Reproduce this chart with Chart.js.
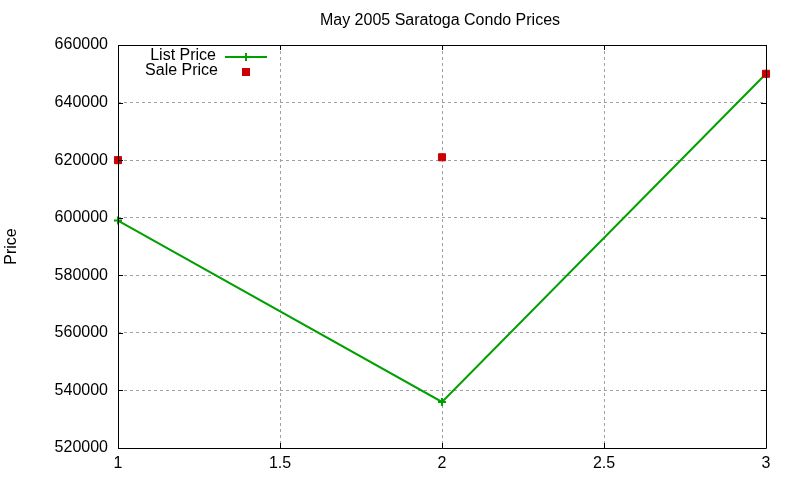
<!DOCTYPE html>
<html>
<head>
<meta charset="utf-8">
<script src="https://cdn.jsdelivr.net/npm/chart.js@4.4.1/dist/chart.umd.min.js"></script>
<style>
html,body{margin:0;padding:0;background:#fff;}
#wrap{width:800px;height:480px;position:relative;}
</style>
</head>
<body>
<div id="wrap"><canvas id="c" width="800" height="480"></canvas></div>
<script>
const xValues = [1, 2, 3];
const listPrice = [599000, 536000, 650000];
const salePrice = [620000, 621000, 650000];
const xTickValues = [1, 1.5, 2, 2.5, 3];
const seriesNames = ["List Price", "Sale Price"];
const chartTitle = "May 2005 Saratoga Condo Prices";
const yAxisTitle = "Price";

const FONT = "'Liberation Sans', Arial, sans-serif";
const GREEN = "#00a000";
const RED = "#cc0000";

const toPts = (ys) => xValues.map((x, i) => ({x: x, y: ys[i]}));

const framePlugin = {
  id: 'frame',
  afterDraw(chart) {
    const ctx = chart.ctx;
    const a = chart.chartArea;
    const xs = chart.scales.x, ys = chart.scales.y;
    ctx.save();
    ctx.strokeStyle = '#000';
    ctx.lineWidth = 1;
    ctx.setLineDash([]);
    ctx.beginPath();
    ctx.rect(Math.round(a.left) + 0.5, Math.round(a.top) + 0.5, Math.round(a.right - a.left), Math.round(a.bottom - a.top));
    ctx.stroke();
    const tl = 5;
    ctx.beginPath();
    ys.ticks.forEach(t => {
      const y = Math.round(ys.getPixelForValue(t.value)) + 0.5;
      ctx.moveTo(a.left, y); ctx.lineTo(a.left + tl, y);
      ctx.moveTo(a.right, y); ctx.lineTo(a.right - tl, y);
    });
    xs.ticks.forEach(t => {
      const x = Math.round(xs.getPixelForValue(t.value)) + 0.5;
      ctx.moveTo(x, a.bottom); ctx.lineTo(x, a.bottom - tl);
      ctx.moveTo(x, a.top); ctx.lineTo(x, a.top + tl);
    });
    ctx.stroke();
    ctx.fillStyle = '#000';
    ctx.font = '16px ' + FONT;
    ctx.textAlign = 'center';
    ctx.textBaseline = 'middle';
    ctx.fillText(chartTitle, 440, 21);
    ctx.textAlign = 'right';
    ctx.fillText(seriesNames[0], 216, 56);
    ctx.fillText(seriesNames[1], 218, 71);
    ctx.strokeStyle = GREEN;
    ctx.lineWidth = 2;
    ctx.beginPath();
    ctx.moveTo(225, 57); ctx.lineTo(267, 57);
    ctx.moveTo(246, 53); ctx.lineTo(246, 61);
    ctx.stroke();
    ctx.fillStyle = RED;
    ctx.fillRect(242, 68, 8, 8);
    ctx.restore();
  }
};

new Chart(document.getElementById('c'), {
  type: 'line',
  data: {
    datasets: [
      {
        label: seriesNames[0],
        data: toPts(listPrice),
        borderColor: GREEN,
        backgroundColor: GREEN,
        borderWidth: 2,
        pointStyle: 'cross',
        pointRadius: 4,
        pointBorderWidth: 2,
        pointBorderColor: GREEN,
        tension: 0,
        clip: false,
        order: 2
      },
      {
        label: seriesNames[1],
        data: toPts(salePrice),
        showLine: false,
        pointStyle: 'rect',
        pointRadius: 5,
        pointBorderWidth: 1,
        pointBorderColor: RED,
        pointBackgroundColor: RED,
        clip: false,
        order: 1
      }
    ]
  },
  options: {
    responsive: false,
    animation: false,
    events: [],
    layout: { padding: { top: 45, right: 34, left: 0, bottom: 0 } },
    plugins: { legend: { display: false }, title: { display: false }, tooltip: { enabled: false } },
    scales: {
      x: {
        type: 'linear',
        min: 1, max: 3,
        afterFit(s) { s.height = 32; },
        afterBuildTicks(s) { s.ticks = xTickValues.map(v => ({value: v})); },
        ticks: { color: '#000', font: { family: FONT, size: 16 }, padding: 6, maxRotation: 0, autoSkip: false,
                 callback: v => String(v) },
        grid: { color: '#a0a0a0', lineWidth: 1, drawTicks: false, tickLength: 0 },
        border: { display: false, dash: [3, 3] }
      },
      y: {
        min: 520000, max: 660000,
        afterFit(s) { s.width = 118; },
        ticks: { stepSize: 20000, color: '#000', font: { family: FONT, size: 16 }, padding: 10, autoSkip: false,
                 callback: v => String(v) },
        grid: { color: '#a0a0a0', lineWidth: 1, drawTicks: false, tickLength: 0 },
        border: { display: false, dash: [3, 3] },
        title: { display: true, text: yAxisTitle, color: '#000', font: { family: FONT, size: 16 }, padding: { top: 2, bottom: 0 } }
      }
    }
  },
  plugins: [framePlugin]
});
</script>
</body>
</html>
